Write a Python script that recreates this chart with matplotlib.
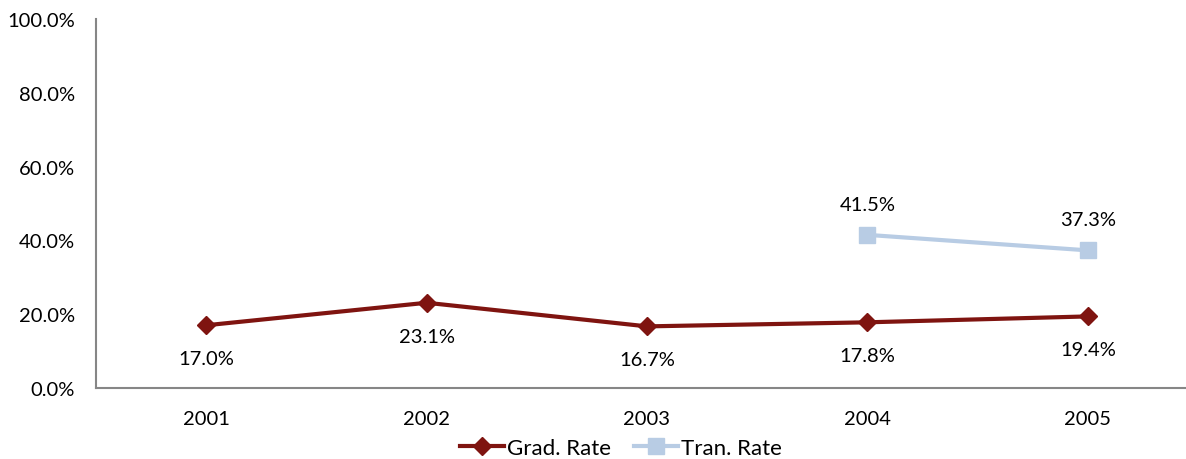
import matplotlib
matplotlib.use("Agg")
import matplotlib.pyplot as plt
import numpy as np

years = ["2001", "2002", "2003", "2004", "2005"]
grad_rate = [17.0, 23.1, 16.7, 17.8, 19.4]
tran_years = ["2004", "2005"]
tran_rate = [41.5, 37.3]
yticks = [0, 20, 40, 60, 80, 100]

FS = 14.5
plt.rcParams['font.family'] = ['Lato', 'DejaVu Sans']
fig = plt.figure(figsize=(11.86, 4.6), dpi=100)
ax = fig.add_axes([96/1186, 1-389/460, 1102/1186, 369/460])

x = np.arange(len(years))
xt = [years.index(y) for y in tran_years]
grad_c = '#7f1410'
tran_c = '#b8cce4'
ax.plot(x, grad_rate, color=grad_c, lw=3, marker='D', ms=9, label='Grad. Rate')
ax.plot(xt, tran_rate, color=tran_c, lw=3, marker='s', ms=11, label='Tran. Rate')

for xi, v in zip(x, grad_rate):
    ax.annotate(f"{v:.1f}%", (xi, v), xytext=(0, -24), textcoords='offset points',
                ha='center', va='center', fontsize=FS)
for xi, v in zip(xt, tran_rate):
    ax.annotate(f"{v:.1f}%", (xi, v), xytext=(0, 22), textcoords='offset points',
                ha='center', va='center', fontsize=FS)

ax.set_xlim(-0.5, len(years) - 0.5)
ax.set_ylim(0, 100)
ax.set_yticks(yticks)
ax.set_yticklabels([f"{t:.1f}%" for t in yticks], fontsize=FS)
ax.set_xticks(x)
ax.set_xticklabels(years, fontsize=FS)
ax.tick_params(axis='x', length=0, pad=16)
ax.tick_params(axis='y', length=0, pad=15)
for s in ['top', 'right']:
    ax.spines[s].set_visible(False)
for s in ['left', 'bottom']:
    ax.spines[s].set_color('#868686')
    ax.spines[s].set_linewidth(1.5)

fig.legend(loc='center', bbox_to_anchor=(621/1186, 1-449/460), ncol=2, frameon=False,
           fontsize=16, handlelength=2.0, columnspacing=1.0, handletextpad=0.15)

fig.savefig('out.png', dpi=100)
